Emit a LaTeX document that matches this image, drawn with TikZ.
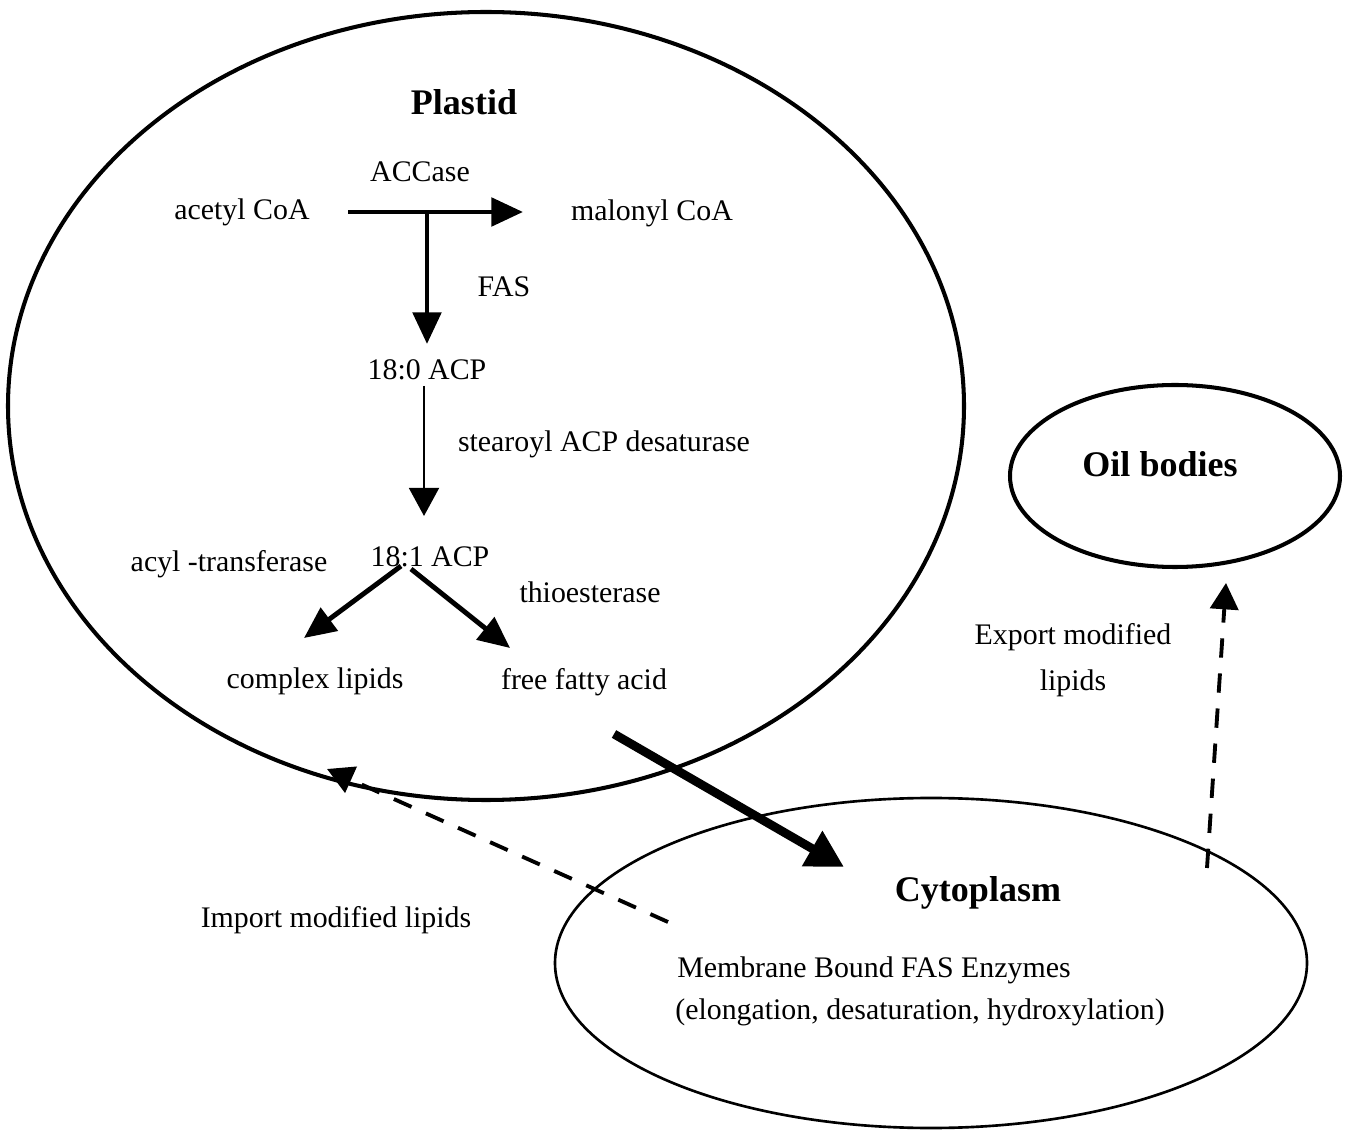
\documentclass[tikz,border=0pt]{standalone}
\usepackage{fontspec}
\setmainfont{Liberation Serif}
\usetikzlibrary{arrows.meta,shapes.geometric}
\begin{document}
\begin{tikzpicture}[x=0.02cm,y=-0.02cm,
  lbl/.style={inner sep=0pt,font=\fontsize{17}{20}\selectfont},
  ttl/.style={inner sep=0pt,font=\fontsize{20.5}{24}\selectfont\bfseries},
  comp/.style={draw,ellipse,inner sep=0pt},
  thickarr/.style={line width=2.8pt,-{Triangle[length=18pt,width=16pt]}},
  thinarr/.style={line width=1.4pt,-{Triangle[length=16pt,width=17pt]}},
  bigarr/.style={line width=5pt,-{Triangle[length=21pt,width=22pt]}},
  dasharr/.style={line width=2.2pt,dash pattern=on 11pt off 9pt,-{Triangle[length=15pt,width=16pt]}}]
\useasboundingbox (0,0) rectangle (1350,1131);
% compartments
\node[comp,line width=2.3pt,minimum width=956*0.02cm,minimum height=788*0.02cm] (plastid) at (486,406) {};
\node[comp,line width=2.3pt,minimum width=330*0.02cm,minimum height=182*0.02cm] (oil) at (1175,476) {};
\node[comp,line width=1.5pt,minimum width=752*0.02cm,minimum height=330*0.02cm] (cyto) at (931,963) {};
% titles
\node[ttl] (tplastid) at (464,102) {Plastid};
\node[ttl] (toil) at (1160,464) {Oil bodies};
\node[ttl] (tcyto) at (978,893) {Cytoplasm};
% labels
\node[lbl] (accase) at (420,172) {ACCase};
\node[lbl] (acetyl) at (242,212) {acetyl CoA};
\node[lbl] (malonyl) at (652,213) {malonyl CoA};
\node[lbl] (fas) at (504,287) {FAS};
\node[lbl] (acp180) at (427,370) {18:0 ACP};
\node[lbl] (sad) at (604,444) {stearoyl ACP desaturase};
\node[lbl] (acyl) at (229,564) {acyl -transferase};
\node[lbl] (acp181) at (430,557) {18:1 ACP};
\node[lbl] (thio) at (590,592) {thioesterase};
\node[lbl] (complex) at (315,681) {complex lipids};
\node[lbl] (ffa) at (584,682) {free fatty acid};
\node[lbl] (export1) at (1073,637) {Export modified};
\node[lbl] (export2) at (1073,683) {lipids};
\node[lbl] (import) at (336,920) {Import modified lipids};
\node[lbl] (mem1) at (874,970) {Membrane Bound FAS Enzymes};
\node[lbl] (mem2) at (920,1012) {(elongation, desaturation, hydroxylation)};
% connector coordinates
\coordinate (hA) at (348,212);
\coordinate (hB) at (523,212);
\coordinate (vA) at (427,212);
\coordinate (vB) at (427,344);
\coordinate (dA) at (424,386);
\coordinate (dB) at (424,516);
\coordinate (lA) at (401,566);
\coordinate (lB) at (304,638);
\coordinate (rA) at (411,569);
\coordinate (rB) at (510,648);
\coordinate (fA) at (614,734);
\coordinate (fB) at (844,867);
\coordinate (iA) at (668,922);
\coordinate (iB) at (327,769);
\coordinate (eA) at (1207,868);
\coordinate (eB) at (1226,583);
% connectors
\draw[thickarr] (hA) -- (hB);
\draw[thickarr] (vA) -- (vB);
\draw[thinarr] (dA) -- (dB);
\draw[thickarr] (lA) -- (lB);
\draw[thickarr] (rA) -- (rB);
\draw[bigarr] (fA) -- (fB);
\draw[dasharr] (iA) -- (iB);
\draw[dasharr] (eA) -- (eB);
\end{tikzpicture}
\end{document}
